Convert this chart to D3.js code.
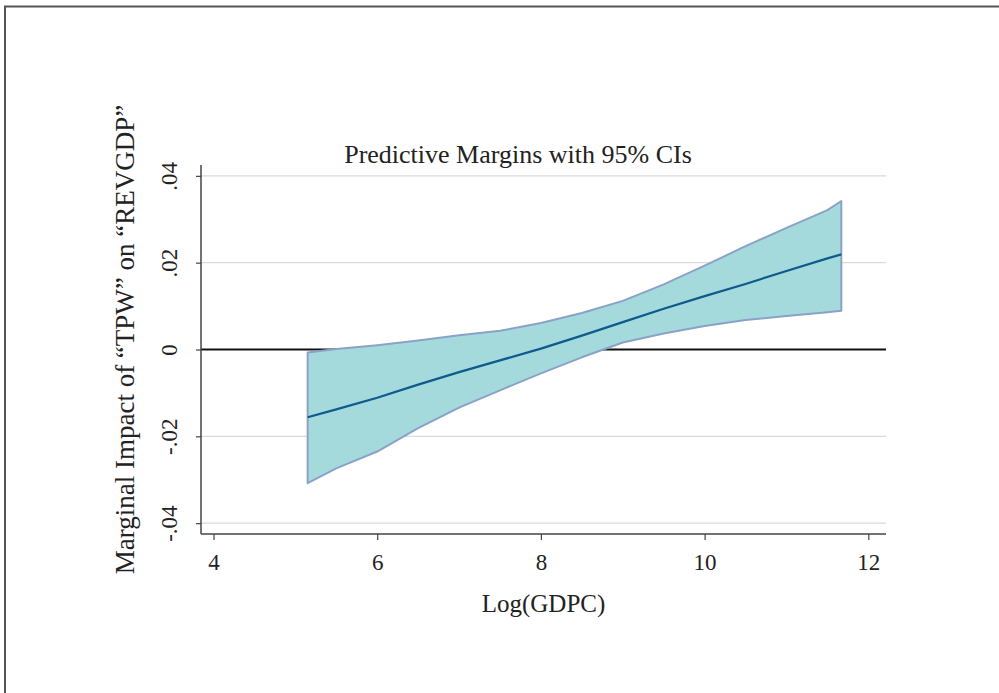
<!DOCTYPE html>
<html>
<head>
<meta charset="utf-8">
<script src="https://cdn.jsdelivr.net/npm/d3@7"></script>
<style>
  body { margin: 0; background: #fff; }
  svg text { font-family: "Liberation Serif", "Times New Roman", serif; fill: #222; }
</style>
</head>
<body>
<div id="chart"></div>
<script>
// Log(GDPC) values where the margins were evaluated
const gdpc = [5.15, 5.5, 6, 6.5, 7, 7.5, 8, 8.5, 9, 9.5, 10, 10.5, 11, 11.5, 11.67];
// predictive margin and 95% CI bounds
const margin = [-0.0156, -0.0138, -0.0111, -0.0081, -0.0052, -0.0025, 0.0002, 0.0032, 0.0063, 0.0094, 0.0123, 0.0151, 0.0181, 0.0210, 0.0219];
const upper = [-0.0007, 0.0001, 0.0010, 0.0021, 0.0033, 0.0043, 0.0061, 0.0084, 0.0112, 0.0150, 0.0193, 0.0238, 0.0280, 0.0321, 0.0342];
const lower = [-0.0308, -0.0274, -0.0235, -0.0181, -0.0134, -0.0094, -0.0055, -0.0018, 0.0016, 0.0037, 0.0054, 0.0068, 0.0077, 0.0086, 0.0089];

const xTicks = [4, 6, 8, 10, 12];
const yTicks = [-0.04, -0.02, 0, 0.02, 0.04];
const yTickLabels = ['-.04', '-.02', '0', '.02', '.04'];

const titleText = 'Predictive Margins with 95% CIs';
const xTitle = 'Log(GDPC)';
const yTitle = 'Marginal Impact of \u201CTPW\u201D on \u201CREVGDP\u201D';

function drawChart() {
    const width = 999;
    const height = 693;
    const plot = { left: 201, right: 886, top: 165, bottom: 534 };

    const svg = d3.select('#chart')
        .append('svg')
        .attr('width', width)
        .attr('height', height);

    // outer frame (only top and left edges are visible)
    svg.append('path')
        .attr('d', `M5,${height} V6.5 H${width}`)
        .attr('fill', 'none')
        .attr('stroke', '#555')
        .attr('stroke-width', 2);

    const x = d3.scaleLinear().domain([3.847, 12.216]).range([plot.left, plot.right]);
    const y = d3.scaleLinear().domain([-0.0425, 0.0425]).range([plot.bottom, plot.top]);

    const rows = gdpc.map((g, i) => ({ g, m: margin[i], hi: upper[i], lo: lower[i] }));

    // gridlines
    svg.append('g')
        .selectAll('line')
        .data(yTicks.filter((d) => d !== 0))
        .join('line')
        .attr('x1', plot.left)
        .attr('x2', plot.right)
        .attr('y1', (d) => y(d))
        .attr('y2', (d) => y(d))
        .attr('stroke', '#dadada')
        .attr('stroke-width', 1.3);

    // zero reference line
    svg.append('line')
        .attr('x1', plot.left)
        .attr('x2', plot.right)
        .attr('y1', y(0))
        .attr('y2', y(0))
        .attr('stroke', '#111')
        .attr('stroke-width', 2);

    // CI band
    const area = d3.area()
        .x((d) => x(d.g))
        .y0((d) => y(d.lo))
        .y1((d) => y(d.hi));

    svg.append('path')
        .datum(rows)
        .attr('d', (d) => area(d) + 'Z')
        .attr('fill', '#a4dadc')
        .attr('stroke', '#8aa2c8')
        .attr('stroke-width', 2)
        .attr('stroke-linejoin', 'round');

    // margin line
    const line = d3.line()
        .x((d) => x(d.g))
        .y((d) => y(d.m));

    svg.append('path')
        .datum(rows)
        .attr('d', line)
        .attr('fill', 'none')
        .attr('stroke', '#0e5a8c')
        .attr('stroke-width', 2.2);

    // axes
    const xAxis = svg.append('g')
        .attr('transform', `translate(0, ${plot.bottom})`)
        .call(d3.axisBottom(x).tickValues(xTicks).tickSize(6).tickSizeOuter(0).tickFormat(d3.format('d')));

    const yAxis = svg.append('g')
        .attr('transform', `translate(${plot.left}, 0)`)
        .call(d3.axisLeft(y).tickValues(yTicks).tickSize(5).tickSizeOuter(0)
            .tickFormat((d, i) => yTickLabels[i]));

    [xAxis, yAxis].forEach((ax) => {
        ax.attr('font-family', null).attr('font-size', null);
        ax.select('.domain').attr('stroke', '#444').attr('stroke-width', 1.5);
        ax.selectAll('.tick line').attr('stroke', '#444').attr('stroke-width', 1.2);
        ax.selectAll('text').style('font-size', '23px').attr('fill', '#222');
    });

    // keep the axis lines spanning the whole plot region
    xAxis.select('.domain').attr('d', `M0,0H${plot.right - plot.left}`).attr('transform', `translate(${plot.left},0)`);
    yAxis.select('.domain').attr('d', `M0,${plot.top}V${plot.bottom}`);

    xAxis.selectAll('text').attr('y', 36).attr('dy', 0);

    yAxis.selectAll('text')
        .attr('transform', 'rotate(-90)')
        .attr('x', 0)
        .attr('y', -24)
        .attr('dy', 0)
        .attr('text-anchor', 'middle');

    // titles
    svg.append('text')
        .attr('x', 518)
        .attr('y', 163)
        .attr('text-anchor', 'middle')
        .style('font-size', '26px')
        .text(titleText);

    svg.append('text')
        .attr('x', (plot.left + plot.right) / 2)
        .attr('y', 612)
        .attr('text-anchor', 'middle')
        .style('font-size', '25px')
        .text(xTitle);

    svg.append('text')
        .attr('transform', `translate(134, ${(plot.top + plot.bottom) / 2 - 10}) rotate(-90)`)
        .attr('text-anchor', 'middle')
        .style('font-size', '27px')
        .text(yTitle);
}

document.addEventListener('DOMContentLoaded', drawChart);
</script>
</body>
</html>
